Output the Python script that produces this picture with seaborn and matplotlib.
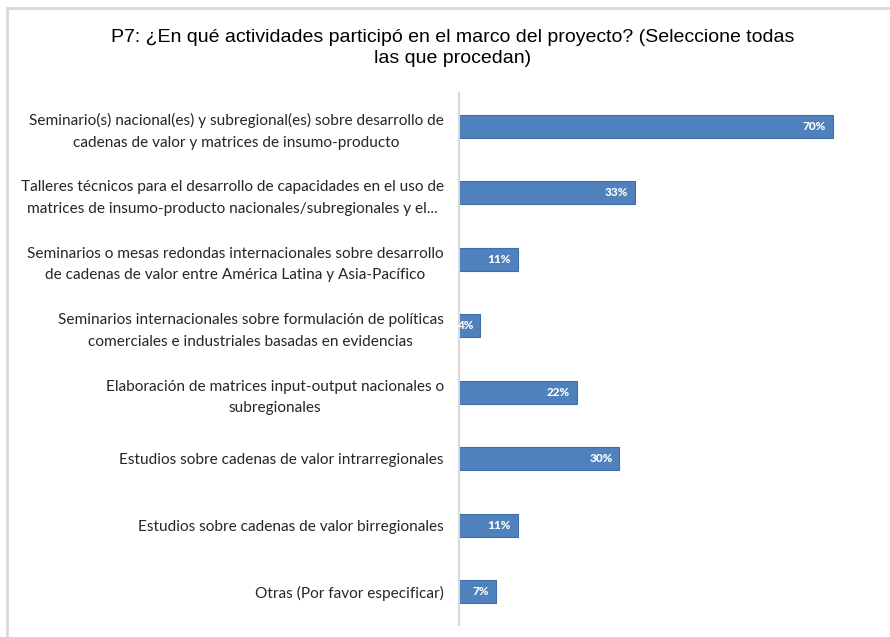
import matplotlib
matplotlib.use("Agg")
import matplotlib.pyplot as plt
import seaborn as sns
import pandas as pd
from matplotlib.lines import Line2D

categories = [
    "Seminario(s) nacional(es) y subregional(es) sobre desarrollo de\ncadenas de valor y matrices de insumo-producto",
    "Talleres técnicos para el desarrollo de capacidades en el uso de\nmatrices de insumo-producto nacionales/subregionales y el...",
    "Seminarios o mesas redondas internacionales sobre desarrollo\nde cadenas de valor entre América Latina y Asia-Pacífico",
    "Seminarios internacionales sobre formulación de políticas\ncomerciales e industriales basadas en evidencias",
    "Elaboración de matrices input-output nacionales o\nsubregionales",
    "Estudios sobre cadenas de valor intrarregionales",
    "Estudios sobre cadenas de valor birregionales",
    "Otras (Por favor especificar)",
]
values = [70, 33, 11, 4, 22, 30, 11, 7]
value_labels = ["70%", "33%", "11%", "4%", "22%", "30%", "11%", "7%"]
title = "P7: ¿En qué actividades participó en el marco del proyecto? (Seleccione todas\nlas que procedan)"

df = pd.DataFrame({"cat": categories, "val": values})

sns.set_theme(style="white")
plt.rcParams["font.family"] = ["Lato", "DejaVu Sans"]

fig = plt.figure(figsize=(8.9, 6.37), dpi=100)
ax = fig.add_axes([459/890, 1-625/637, 0.97 - 459/890, (625-93)/637])

sns.barplot(data=df, x="val", y="cat", orient="h", color="#4F81BD",
            saturation=1, width=0.35, edgecolor="#3E6EA6", linewidth=0.8, ax=ax)

ax.set_xlim(0, (0.97*890 - 459) / 5.343)
ax.set_ylim(7.5, -0.5)
ax.set_xlabel("")
ax.set_ylabel("")
ax.set_xticks([])
for s in ["top", "right", "bottom"]:
    ax.spines[s].set_visible(False)
ax.spines["left"].set_color("#d9d9d9")
ax.spines["left"].set_linewidth(1.5)
ax.tick_params(axis="y", length=0, pad=11, labelsize=11.1, labelcolor="#262626")
for t in ax.get_yticklabels():
    t.set_multialignment("center")
    t.set_linespacing(1.68)

for i, (v, lab) in enumerate(zip(values, value_labels)):
    ax.annotate(lab, xy=(v, i), xytext=(-5, 0), textcoords="offset points",
                ha="right", va="center", color="white", fontsize=8.5,
                fontweight="black")

fig.text(453/890, 1-48/637, title, ha="center", va="center",
         fontsize=14, family=["Liberation Sans", "DejaVu Sans"],
         color="black", linespacing=1.35)

fig.add_artist(Line2D([7/890, 7/890], [0, 1-8/637], color="#d9d9d9", lw=2, transform=fig.transFigure))
fig.add_artist(Line2D([7/890, 1], [1-8/637, 1-8/637], color="#d9d9d9", lw=2, transform=fig.transFigure))

fig.savefig("out.png", dpi=100)
